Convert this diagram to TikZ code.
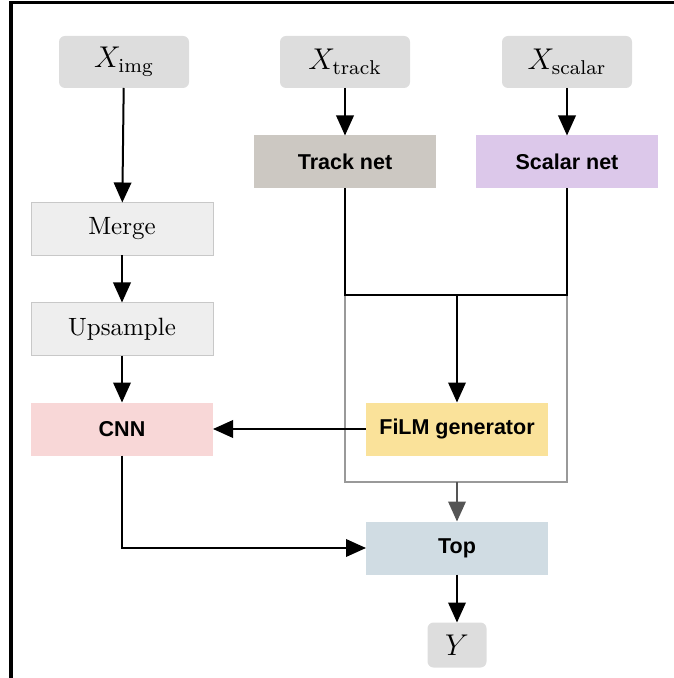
\documentclass[tikz,border=0pt]{standalone}
\usepackage{fontspec}
\newfontfamily\netfont{Liberation Sans}
\usetikzlibrary{arrows.meta}
\definecolor{ingray}{HTML}{DDDDDD}
\definecolor{stepgray}{HTML}{EEEEEE}
\definecolor{stepline}{HTML}{C8C8C8}
\definecolor{trackfill}{HTML}{CCC8C2}
\definecolor{scalarfill}{HTML}{DCC8EA}
\definecolor{cnnfill}{HTML}{F8D7D7}
\definecolor{filmfill}{HTML}{FAE29A}
\definecolor{topfill}{HTML}{D0DCE3}
\definecolor{groupline}{HTML}{999999}
\definecolor{grouparrow}{HTML}{555555}

\begin{document}
\begin{tikzpicture}[x=0.4pt,y=-0.4pt,>={Triangle[length=8pt,width=7pt]},
  inbox/.style={fill=ingray,rounded corners=2.4pt,minimum width=52pt,minimum height=20.8pt,inner sep=0pt,outer sep=0pt,font=\large},
  stepbox/.style={fill=stepgray,draw=stepline,line width=0.3pt,minimum width=72.8pt,minimum height=21.2pt,inner sep=0pt,outer sep=0pt},
  netbox/.style={minimum width=72.8pt,minimum height=21.2pt,inner sep=0pt,outer sep=0pt,font=\netfont\bfseries\fontsize{8.6pt}{10pt}\selectfont},
  link/.style={line width=0.8pt}]
\useasboundingbox (0,0) rectangle (673,678);
% frame
\draw [line width=1.4pt] (11,680) -- (11,2.5) -- (675,2.5);
% inputs
\node [inbox] (ximg) at (124,62) {$X_{\mathrm{img}}$};
\node [inbox] (xtrack) at (345,62) {$X_{\mathrm{track}}$};
\node [inbox] (xscalar) at (567,62) {$X_{\mathrm{scalar}}$};
% networks
\node [netbox,fill=trackfill] (tracknet) at (345,162) {Track net};
\node [netbox,fill=scalarfill] (scalarnet) at (567,162) {Scalar net};
\node [stepbox] (merge) at (122,229) {Merge};
\node [stepbox] (upsample) at (122,329) {Upsample};
\node [netbox,fill=cnnfill] (cnn) at (122,429) {CNN};
\node [netbox,fill=filmfill] (film) at (457,429) {FiLM generator};
\node [netbox,fill=topfill] (top) at (457,548) {Top};
\node [inbox,minimum width=23.6pt,minimum height=18pt] (y) at (457,645) {$Y$};
\coordinate (join) at (457,295);
\coordinate (groupbottom) at (457,482);
% group box
\draw [groupline,line width=0.6pt] (tracknet |- join) -- (tracknet |- groupbottom) -- (scalarnet |- groupbottom) -- (scalarnet |- join);
% connectors
\draw [link,->] (ximg) -- (merge);
\draw [link,->] (merge) -- (upsample);
\draw [link,->] (upsample) -- (cnn);
\draw [link,->] (xtrack) -- (tracknet);
\draw [link,->] (xscalar) -- (scalarnet);
\draw [link] (tracknet) -- (tracknet |- join) -- (scalarnet |- join) -- (scalarnet);
\draw [link,->] (join) -- (film);
\draw [link,->] (film) -- (cnn);
\draw [link,->] (cnn) |- (top);
\draw [link,grouparrow,->] (groupbottom) -- (top);
\draw [link,->] (top) -- (y);
\end{tikzpicture}
\end{document}
